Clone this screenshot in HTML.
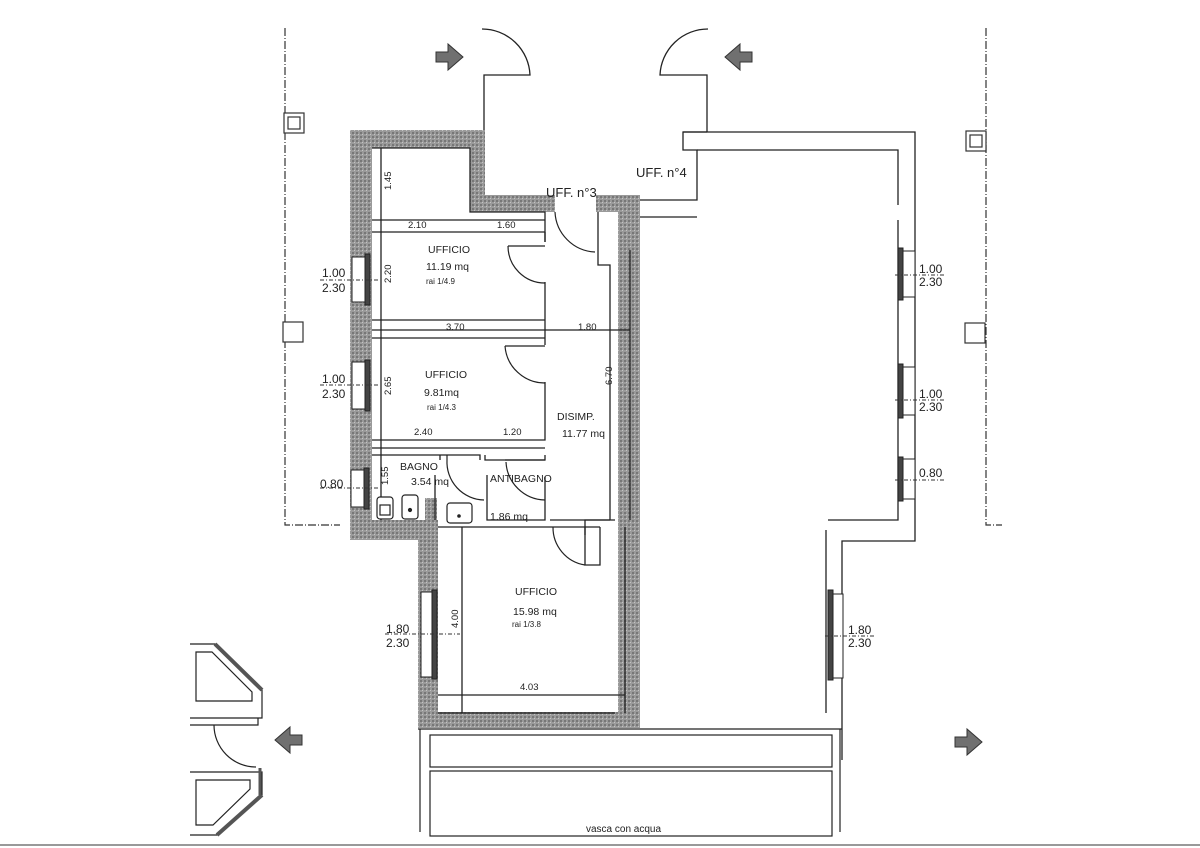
<!DOCTYPE html>
<html><head><meta charset="utf-8"><style>
html,body{margin:0;padding:0;background:#fff;width:1200px;height:848px;overflow:hidden}
svg{display:block}
text{font-family:"Liberation Sans",sans-serif;fill:#222}
</style></head><body>
<svg width="1200" height="848" viewBox="0 0 1200 848" xmlns="http://www.w3.org/2000/svg">
<defs>
<pattern id="h" width="4" height="4" patternUnits="userSpaceOnUse">
<rect width="4" height="4" fill="#9a9a9a"/><rect x="0" y="0" width="2" height="2" fill="#777"/><rect x="2" y="2" width="1" height="1" fill="#c4c4c4"/>
</pattern>
<g id="arrow"><polygon points="0,-5 12,-5 12,-13 27,0 12,13 12,5 0,5" fill="#707070" stroke="#333" stroke-width="1"/></g>
</defs>

<g stroke="#333" stroke-width="1.2" fill="none" stroke-dasharray="8,2,1,2">
<path d="M285,28 V525 H340"/>
<path d="M986,28 V525 H1002"/>
</g>
<g fill="#fff" stroke="#333" stroke-width="1.2">
<rect x="284" y="113" width="20" height="20"/><rect x="288" y="117" width="12" height="12"/>
<rect x="283" y="322" width="20" height="20"/>
<rect x="966" y="131" width="20" height="20"/><rect x="970" y="135" width="12" height="12"/>
<rect x="965" y="323" width="20" height="20"/>
</g>

<g fill="url(#h)">
<rect x="350" y="130" width="135" height="18"/>
<rect x="470" y="130" width="15" height="80"/>
<rect x="470" y="195" width="85" height="17"/>
<rect x="596" y="195" width="44" height="17"/>
<rect x="618" y="195" width="22" height="533"/>
<rect x="350" y="130" width="22" height="410"/>
<rect x="350" y="520" width="88" height="20"/>
<rect x="418" y="520" width="20" height="208"/>
<rect x="418" y="712" width="222" height="16"/>
<rect x="425" y="498" width="12" height="30"/>
</g>
<g fill="#fff">
<rect x="372" y="148" width="98" height="72"/>
<rect x="372" y="212" width="246" height="8"/>
</g>

<g stroke="#222" stroke-width="1.3" fill="none">
<path d="M372,148 H470 V212 H545 V242"/>
<path d="M372,220 H545 M372,232 H545"/>
<path d="M381,148 V520"/>
<path d="M545,232 V242 M545,282 V320 H372 M372,338 H545 M545,320 V345"/>
<path d="M372,330 H630"/>
<path d="M545,382 V440 H372 M372,448 H545"/>
<path d="M372,455 H480 V460 M485,455 V460 H545 M440,455 V460"/>
<path d="M505,460 H545 V455"/>
<path d="M598,212 V265 H610 V520 H585 V535 M598,520 H615"/>
<path d="M435,475 V520 M487,475 V520 H545 V477 M550,520 H610"/>
<path d="M438,527 H600 M585,527 V565 H600 V527 M462,527 V713"/>
<path d="M438,695 H625 V713 M438,713 H615"/>
<path d="M625,527 V695"/>
<path d="M630,250 V520"/>
</g>
<g stroke="#222" stroke-width="1.2" fill="none">
<path d="M508,246 A37,37 0 0 0 545,283"/><path d="M508,246 H545"/>
<path d="M505,346 A40,40 0 0 0 545,383"/><path d="M505,346 H545"/>
<path d="M555,212 A42,42 0 0 0 595,252"/>
<path d="M447,460 A38,38 0 0 0 484,500"/><path d="M447,460 V455"/>
<path d="M506,462 A40,40 0 0 0 545,500"/>
<path d="M553,527 A38,38 0 0 0 585,565"/>
</g>
<g stroke="#222" stroke-width="1.2" fill="#fff">
<rect x="377" y="497" width="16" height="22" rx="3"/><rect x="380" y="505" width="10" height="10"/>
<rect x="402" y="495" width="16" height="24" rx="3"/><circle cx="410" cy="510" r="1.5" fill="#222"/>
<rect x="447" y="503" width="25" height="20" rx="3"/><circle cx="459" cy="516" r="1.2" fill="#222"/>
</g>

<g stroke="#222" stroke-width="1.3" fill="none">
<path d="M484,130 V75 H530 A48,48 0 0 0 482,29"/>
<path d="M707,132 V75 H660 A48,48 0 0 1 708,29"/>
</g>

<g stroke="#222" stroke-width="1.3" fill="none">
<path d="M707,132 H683 V150 H697 V200 H640"/>
<path d="M640,217 H697"/>
<path d="M683,132 H915 V541 H842 V760"/>
<path d="M697,150 H898 V205 M898,220 V520 H828 M826,530 V713"/>
<path d="M418,729 H842"/>
</g>

<g stroke="#222" stroke-width="1.2" fill="none">
<path d="M420,729 V832 M840,729 V832"/>
<rect x="430" y="735" width="402" height="32"/>
<rect x="430" y="771" width="402" height="65"/>
</g>
<line x1="0" y1="845" x2="1200" y2="845" stroke="#999" stroke-width="2"/>
<text x="586" y="832" font-size="10">vasca con acqua</text>

<g stroke="#222" stroke-width="1" fill="#fff">
<rect x="352" y="257" width="13" height="45"/><rect x="365" y="254" width="5" height="51" fill="#444"/>
<rect x="352" y="362" width="13" height="47"/><rect x="365" y="360" width="5" height="51" fill="#444"/>
<rect x="351" y="470" width="13" height="37"/><rect x="364" y="468" width="5" height="41" fill="#444"/>
<rect x="421" y="592" width="13" height="85"/><rect x="432" y="590" width="5" height="89" fill="#444"/>
<rect x="903" y="251" width="12" height="46"/><rect x="898" y="248" width="5" height="52" fill="#444"/>
<rect x="903" y="367" width="12" height="48"/><rect x="898" y="364" width="5" height="54" fill="#444"/>
<rect x="903" y="459" width="12" height="40"/><rect x="898" y="457" width="5" height="44" fill="#444"/>
<rect x="833" y="594" width="10" height="84"/><rect x="828" y="590" width="5" height="90" fill="#444"/>
</g>
<g stroke="#333" stroke-width="1" stroke-dasharray="4,2,1,2">
<line x1="320" y1="280" x2="380" y2="280"/><line x1="320" y1="385" x2="380" y2="385"/>
<line x1="320" y1="488" x2="380" y2="488"/><line x1="385" y1="634" x2="460" y2="634"/>
<line x1="895" y1="275" x2="945" y2="275"/><line x1="895" y1="400" x2="945" y2="400"/>
<line x1="895" y1="480" x2="945" y2="480"/><line x1="825" y1="636" x2="875" y2="636"/>
</g>
<g font-size="12">
<text x="322" y="277">1.00</text><text x="322" y="292">2.30</text>
<text x="322" y="383">1.00</text><text x="322" y="398">2.30</text>
<text x="320" y="488">0.80</text>
<text x="386" y="633">1.80</text><text x="386" y="647">2.30</text>
<text x="919" y="273">1.00</text><text x="919" y="286">2.30</text>
<text x="919" y="398">1.00</text><text x="919" y="411">2.30</text>
<text x="919" y="477">0.80</text>
<text x="848" y="634">1.80</text><text x="848" y="647">2.30</text>
</g>

<g font-size="10.5">
<text x="428" y="253">UFFICIO</text>
<text x="426" y="270">11.19  mq</text>
<text x="425" y="378">UFFICIO</text>
<text x="424" y="396">9.81mq</text>
<text x="400" y="470">BAGNO</text>
<text x="411" y="485">3.54  mq</text>
<text x="490" y="482">ANTIBAGNO</text>
<text x="490" y="520">1.86  mq</text>
<text x="557" y="420">DISIMP.</text>
<text x="562" y="437">11.77  mq</text>
<text x="515" y="595">UFFICIO</text>
<text x="513" y="615">15.98  mq</text>
</g>
<g font-size="8">
<text x="426" y="284">rai  1/4.9</text>
<text x="427" y="410">rai  1/4.3</text>
<text x="512" y="627">rai  1/3.8</text>
</g>
<g font-size="9.5">
<text x="408" y="228">2.10</text><text x="497" y="228">1.60</text>
<text x="446" y="330">3.70</text><text x="578" y="330">1.80</text>
<text x="414" y="435">2.40</text><text x="503" y="435">1.20</text>
<text x="520" y="690">4.03</text>
<text transform="translate(391,190) rotate(-90)">1.45</text>
<text transform="translate(391,283) rotate(-90)">2.20</text>
<text transform="translate(391,395) rotate(-90)">2.65</text>
<text transform="translate(388,485) rotate(-90)">1.55</text>
<text transform="translate(458,628) rotate(-90)">4.00</text>
<text transform="translate(612,385) rotate(-90)">6.70</text>
</g>
<g font-size="13">
<text x="546" y="197">UFF. n°3</text>
<text x="636" y="177">UFF. n°4</text>
</g>

<use href="#arrow" transform="translate(436,57)"/>
<use href="#arrow" transform="translate(752,57) scale(-1,1)"/>
<use href="#arrow" transform="translate(302,740) scale(-1,1)"/>
<use href="#arrow" transform="translate(955,742)"/>

<g stroke="#222" stroke-width="1.2" fill="none">
<path d="M190,644 H215 L262,690 V718 H190"/>
<path d="M196,652 H212 L252,692 V701 H196 Z"/>
<path d="M215,644 L262,690" stroke-width="4" stroke="#555"/>
<path d="M190,725 H258 V718"/>
<path d="M214,725 A42,42 0 0 0 256,767"/>
<path d="M190,772 H262 V795 L217,835 H190"/>
<path d="M196,780 H250 V789 L213,825 H196 Z"/>
<path d="M262,795 L217,835" stroke-width="4" stroke="#555"/>
<path d="M260,768 V795" stroke-width="3" stroke="#555"/>
</g>
</svg>
</body></html>
